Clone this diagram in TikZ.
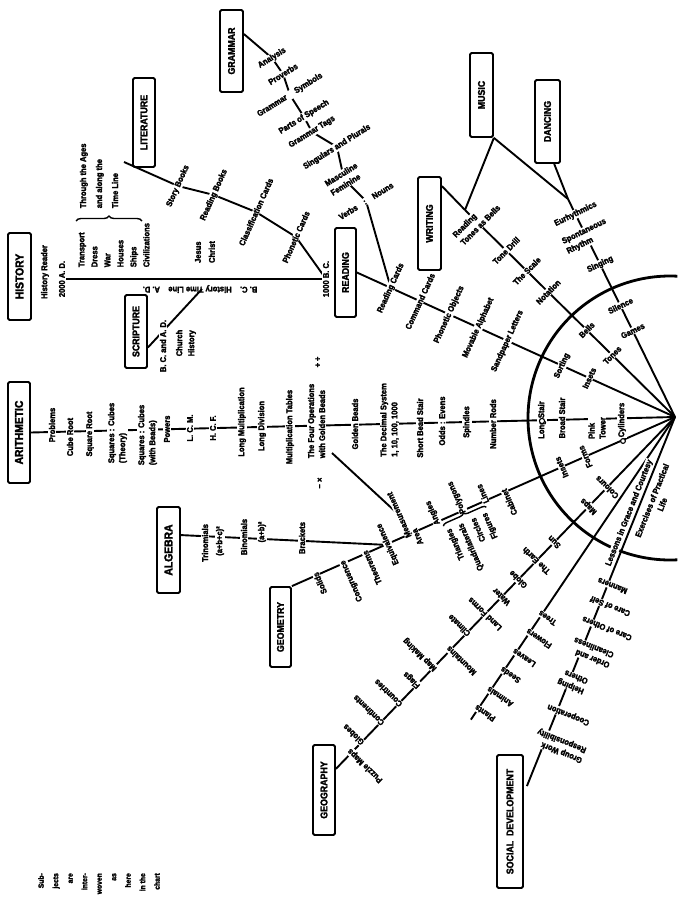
\documentclass[tikz,border=0pt]{standalone}
\usepackage{fontspec}
\usepackage{graphicx}
\usetikzlibrary{calc,backgrounds,decorations.pathreplacing}
\newfontfamily\lsfont{Liberation Sans}[FakeStretch=0.9,BoldFeatures={FakeBold=2.4}]
\newcommand\labfont{\lsfont\bfseries\fontsize{8.4}{11}\selectfont}
\newcommand\boxfont{\lsfont\bfseries\fontsize{9.8}{10}\selectfont}
\newcommand\bigboxfont{\lsfont\bfseries\fontsize{11.5}{12}\selectfont}
\newcommand\raylab[6][]{\node[lab,rotate={270-#3},#1] (#2) at ($(C)+(#3:#4)+(#3+90:#5)$) {#6};}
\begin{document}
\begin{tikzpicture}[x=1pt,y=-1pt,
  box/.style={draw,line width=1.8pt,rounded corners=1.5pt,inner sep=0pt,font=\boxfont},
  lab/.style={font=\labfont,fill=white,inner sep=0.6pt,align=center},
  txt/.style={font=\labfont,inner sep=0.6pt,align=left},
  ray/.style={line width=1.9pt},
  arcline/.style={line width=2.8pt},
  bead/.style={line width=1.1pt,fill=white}]
\useasboundingbox (0,0) rectangle (684,900);

\coordinate (C) at (675,417);
\coordinate (J) at (465,210);
\coordinate (Eu) at (568,199);

% ---------- subject boxes ----------
\node[box,minimum width=23pt,minimum height=82pt] (gram) at (231.5,51) {\rotatebox{90}{GRAMMAR}};
\node[box,minimum width=22pt,minimum height=89pt] (lit) at (144,122.5) {\rotatebox{90}{LITERATURE}};
\node[box,font=\bigboxfont,minimum width=23pt,minimum height=87pt] (hist) at (19.5,276.5) {\rotatebox{90}{HISTORY}};
\node[box,minimum width=22pt,minimum height=73pt] (scr) at (136,331.5) {\rotatebox{90}{SCRIPTURE}};
\node[box,font=\bigboxfont,minimum width=22pt,minimum height=101pt] (arith) at (19,432.5) {\rotatebox{90}{ARITHMETIC}};
\node[box,font=\bigboxfont,minimum width=23pt,minimum height=86pt] (alg) at (168.5,550) {\rotatebox{90}{ALGEBRA}};
\node[box,minimum width=21pt,minimum height=80pt] (geom) at (280.5,627) {\rotatebox{90}{GEOMETRY}};
\node[box,minimum width=22pt,minimum height=90pt] (geog) at (324,790) {\rotatebox{90}{GEOGRAPHY}};
\node[box,minimum width=26pt,minimum height=133pt] (soc) at (510,821.5) {\rotatebox{90}{SOCIAL\ \ DEVELOPMENT}};
\node[box,minimum width=21pt,minimum height=89pt] (rd) at (345.5,272.5) {\rotatebox{90}{READING}};
\node[box,minimum width=23pt,minimum height=93pt] (wr) at (429.5,223.5) {\rotatebox{90}{WRITING}};
\node[box,minimum width=23pt,minimum height=84pt] (mus) at (481.5,95) {\rotatebox{90}{MUSIC}};
\node[box,minimum width=25pt,minimum height=83pt] (dan) at (547.5,121.5) {\rotatebox{90}{DANCING}};

\coordinate (geoE) at ($(geog.north east)!0.27!(geog.south east)$);
\coordinate (socE) at ($(soc.north east)+(3,32)$);
\coordinate (natE) at ($(C)+(124:365)$);
\coordinate (algE) at ($(alg.north east)!0.33!(alg.south east)$);
\coordinate (gAlg) at ($(C)!0.756!(geom.north east)$);
\coordinate (foC) at (332,453);
\coordinate (litS) at (124,162);
\coordinate (tlS) at (202,289);

% ---------- history ----------
\node[lab,rotate=90] (hr) at (45,272) {History Reader};
\node[lab,rotate=90] (ad2000) at (62,279) {2000 A. D.};
\node[txt,rotate=180] (tl) at (200,289) {B. C.\quad History Time Line\quad A. D.};
\node[txt,rotate=90,anchor=west,font=\lsfont\bfseries\fontsize{8.4}{13}\selectfont] (civ) at (114,268) {Transport\\Dress\\War\\Houses\\Ships\\Civilizations};
\node[txt,rotate=90,anchor=west,font=\lsfont\bfseries\fontsize{8.4}{16}\selectfont] (thru) at (99,209) {Through the Ages\\and along the\\Time Line};
\draw[line width=1.4pt,decorate,decoration={brace,amplitude=5pt}] (76,221) -- (142,221);
\node[txt,rotate=90,font=\lsfont\bfseries\fontsize{8.4}{14}\selectfont] (jc) at (205,252) {Jesus\\Christ};
\node[lab,rotate=90] (bc1000) at (326,279) {1000 B. C.};
\node[lab,rotate=90] (bcad) at (163,346) {B. C. and A. D.};
\node[txt,rotate=90,font=\lsfont\bfseries\fontsize{8.4}{12}\selectfont] (ch) at (186,343) {Church\\History};

% ---------- literature ----------
\node[lab,rotate=66] (l1) at (178,186) {Story Books};
\node[lab,rotate=66] (l2) at (214,195) {Reading Books};
\node[lab,rotate=66] (l3) at (256,212) {Classification Cards};
\node[lab,rotate=66] (l4) at (296,237) {Phonetic Cards};

% ---------- grammar ----------
\node[lab,rotate=32] (g1) at (272,58) {Analysis};
\node[lab,rotate=32] (g2) at (283,74) {Proverbs};
\node[lab,rotate=32] (g3) at (290,95) {Grammar\hspace{10pt}Symbols};
\node[lab,rotate=32] (g4) at (304,117) {Parts of Speech};
\node[lab,rotate=32] (g5) at (312,132) {Grammar Tags};
\node[lab,rotate=32] (g6) at (337,147) {Singulars and Plurals};
\node[lab,rotate=32,align=left] (g7) at (344,179) {Masculine\\Feminine};
\node[lab,rotate=32] (g8) at (366,201) {Verbs\hspace{8pt}:\hspace{8pt}Nouns};

% ---------- arithmetic ----------
\node[lab,rotate=90] (a1) at (52,425) {Problems};
\node[lab,rotate=90] (a2) at (70,437) {Cube Root};
\node[lab,rotate=90] (a3) at (90,434) {Square Root};
\node[lab,rotate=90,align=left] (a4) at (117.5,433) {Squares : Cubes\\(Theory)};
\node[lab,rotate=90,align=left] (a5) at (147.5,435) {Squares : Cubes\\(with Beads)};
\node[lab,rotate=90] (a6) at (167,429) {Powers};
\node[lab,rotate=90] (a7) at (190,428) {L. C. M.};
\node[lab,rotate=90] (a8) at (213,428) {H. C. F.};
\node[lab,rotate=90] (a9) at (242,422) {Long Multiplication};
\node[lab,rotate=90] (a10) at (262,426) {Long Division};
\node[lab,rotate=90] (a11) at (290,427) {Multiplication Tables};
\node[lab,rotate=90,align=left] (a12) at (316.5,421) {The Four Operations\\with Golden Beads};
\node[txt,rotate=90] (op1) at (318,362) {+ ÷};
\node[txt,rotate=90] (op2) at (320,483) {− ×};
\node[lab,rotate=90] (a13) at (355,424) {Golden Beads};
\node[lab,rotate=90,align=left] (a14) at (389.5,420) {The Decimal System\\1, 10, 100, 1000};
\node[lab,rotate=90] (a15) at (420,428) {Short Bead Stair};
\node[lab,rotate=90] (a16) at (442,421) {Odds : Evens};
\node[lab,rotate=90] (a17) at (467,422) {Spindles};
\node[lab,rotate=90] (a18) at (493,424) {Number Rods};
\node[lab,rotate=90] (a19) at (542,420) {Long Stair};
\node[lab,rotate=90] (a20) at (562,418) {Broad Stair};
\node[lab,rotate=90,align=left] (a21) at (597,428) {Pink\\Tower};
\node[lab,rotate=90] (a22) at (622,420) {Cylinders};

% ---------- algebra ----------
\node[lab,rotate=90] (al1) at (205,543) {Trinomials};
\node[lab,rotate=90] (al2) at (220,541) {(a+b+c)²};
\node[lab,rotate=90] (al3) at (244,537) {Binomials};
\node[lab,rotate=90] (al4) at (262,532) {(a+b)²};
\node[lab,rotate=90] (al5) at (302,538) {Brackets};

% ---------- reading ray ----------
\raylab{r1}{204.4}{312}{0}{Reading Cards}
\raylab{r2}{204.4}{280}{0}{Command Cards}
\raylab{r3}{204.4}{248}{0}{Phonetic Objects}
\raylab{r4}{204.4}{216}{0}{Movable Alphabet}
\raylab{r5}{204.4}{184}{0}{Sandpaper Letters}
\raylab{r6}{204.4}{124}{0}{Sorting}
\raylab{r7}{204.4}{94}{0}{Insets}

% ---------- music ray ----------
\raylab[align=left]{m1}{224.6}{279}{0}{Reading\\Tones as Bells}
\raylab{m2}{224.6}{237}{0}{Tone Drill}
\raylab{m3}{224.6}{208}{0}{The Scale}
\raylab{m4}{224.6}{178}{0}{Notation}
\raylab{m5}{224.6}{124}{0}{Bells}
\raylab{m6}{224.6}{88}{0}{Tones}

% ---------- dancing ray ----------
\raylab{d1}{243.9}{226}{0}{Eurhythmics}
\raylab[align=left]{d2}{243.9}{201}{0}{Spontaneous\\Rhythm}
\raylab{d3}{243.9}{170}{0}{Singing}
\raylab{d4}{243.9}{124}{0}{Silence}
\raylab{d5}{243.9}{96}{0}{Games}

% ---------- geometry ray ----------
\raylab[anchor=east]{gm1}{156.1}{392}{4}{Solids}
\raylab[anchor=east]{gm2}{156.1}{362}{4}{Congruence}
\raylab[anchor=east]{gm3}{156.1}{338}{4}{Theorems}
\raylab{gm4}{156.1}{314}{0}{Equivalence}
\raylab[anchor=west]{gA}{156.1}{292}{-3}{Measurement}
\raylab[anchor=east]{gm5}{156.1}{284}{4}{Area}
\raylab[anchor=west]{gm6}{156.1}{260}{-3}{Angles}
\raylab[anchor=west]{gm7}{156.1}{232}{-3}{Polygons}
\raylab[anchor=west]{gm8}{156.1}{207}{-3}{Lines}
\raylab[anchor=east]{gb1}{156.1}{252}{-10}{Triangles}
\raylab[anchor=east]{gb2}{156.1}{239}{-10}{Quadrilaterals}
\raylab[anchor=east]{gb3}{156.1}{226}{-10}{Circles}
\raylab[anchor=east]{gb4}{156.1}{213}{-10}{Figures}
\draw[line width=1.4pt,decorate,decoration={brace,amplitude=4pt}] ($(C)+(156.1:256)+(246.1:-6)$) -- ($(C)+(156.1:209)+(246.1:-6)$);
\raylab[anchor=east]{gm9}{156.1}{186}{4}{Cabinet}
\raylab{gm10}{156.1}{124}{0}{Insets}
\raylab{gm11}{156.1}{98}{0}{Forms}

% ---------- geography ray ----------
\raylab[anchor=east]{ge1}{134}{466}{4}{Puzzle Maps}
\raylab[anchor=west]{ge2}{134}{452}{-3}{Globes}
\raylab[anchor=west]{ge3}{134}{424}{-4}{Continents}
\raylab[anchor=west]{ge4}{134}{398}{-4}{Countries}
\raylab[anchor=west]{ge5}{134}{372}{-4}{Flags}
\raylab[anchor=west]{ge6}{134}{348}{-4}{Map Making}
\raylab[anchor=east]{ge7}{134}{324}{4}{Mountains}
\raylab[anchor=west]{ge8}{134}{300}{-4}{Climate}
\raylab{ge9}{134}{274}{0}{Land Forms}
\raylab{ge10}{134}{250}{0}{Water}
\raylab{ge11}{134}{226}{0}{Globe}
\raylab{ge12}{134}{200}{0}{The Earth}
\raylab{ge13}{134}{174}{0}{Sun}
\raylab{ge14}{134}{124}{0}{Maps}
\raylab{ge15}{134}{98}{0}{Colours}

% ---------- nature ray ----------
\raylab[anchor=east]{n1}{124}{352}{4}{Plants}
\raylab[anchor=east]{n2}{124}{330}{4}{Animals}
\raylab[anchor=east]{n3}{124}{306}{4}{Seeds}
\raylab[anchor=east]{n4}{124}{284}{4}{Leaves}
\raylab[anchor=east]{n5}{124}{260}{4}{Flowers}
\raylab[anchor=east]{n6}{124}{238}{4}{Trees}

% ---------- social ray ----------
\raylab[anchor=east]{so1}{111.7}{180}{12}{Manners}
\raylab[anchor=east]{so2}{111.7}{200}{12}{Care of Self}
\raylab[anchor=east]{so3}{111.7}{222}{12}{Care of Others}
\raylab[anchor=east,align=left]{so4}{111.7}{250}{12}{Order and\\Cleanliness}
\raylab[anchor=east,align=left]{so5}{111.7}{284}{12}{Helping\\Others}
\raylab[anchor=east]{so6}{111.7}{316}{12}{Cooperation}
\raylab[anchor=east,align=left]{so7}{111.7}{348}{12}{Group Work\\Responsibility}
\node[lab,rotate=68.3] (lgc) at ($(C)+(111.7:106)+(201.7:7)$) {Lessons in Grace and Courtesy};
\node[lab,rotate=68.3] (epl) at ($(C)+(111.7:86)+(21.7:15)$) {Exercises of Practical\\Life};

% ---------- caption fragment ----------
\node[font=\lsfont\bfseries\fontsize{7.5}{14.5}\selectfont,rotate=90,align=right,anchor=east,inner sep=0pt] (cap) at (99,873) {Sub-\\jects\\are\\inter-\\woven\\as\\here\\in the\\chart};

% ---------- beads ----------
\draw[bead] (542,421) circle (2.6pt);
\draw[bead] (623,441) circle (2.4pt);

% ---------- lines behind the labels ----------
\begin{pgfonlayer}{background}
  \draw[arcline] plot[domain=87:273,samples=90,smooth] ({670+142*cos(\x)},{418+142*sin(\x)});
  \draw[ray] (arith.east) -- (C);
  \draw[ray] (rd.east) -- (C);
  \draw[ray] (J) -- (C);
  \draw[ray] (Eu) -- (C);
  \draw[ray] (mus.south east) -- (J);
  \draw[ray] ($(wr.north east)+(0,10)$) -- (J);
  \draw[ray] (mus.south east) -- (Eu);
  \draw[ray] ($(dan.south)!0.5!(dan.south east)$) -- (Eu);
  \draw[ray] (C) -- (geom.north east);
  \draw[ray] (C) -- (geoE);
  \draw[ray] (C) -- (natE);
  \draw[ray] (C) -- (socE);
  \draw[ray] (algE) -- (gAlg);
  \draw[ray] (foC) -- (gA.center);
  \draw[ray] ($(gram.east)+(0,-17)$) -- (g1.center) -- (g2.center) -- (g3.center) -- (g4.center) -- (g5.center) -- (g6.center) -- (g7.center) -- (g8.center) -- (r1.center);
  \draw[ray] (litS) -- (l1.center) -- (l2.center) -- (l3.center) -- (l4.center) -- (bc1000.center);
  \draw[ray] (ad2000.center) -- (bc1000.center);
  \draw[ray] ($(scr.east)+(0,16)$) -- (tlS);
\end{pgfonlayer}
\end{tikzpicture}
\end{document}
